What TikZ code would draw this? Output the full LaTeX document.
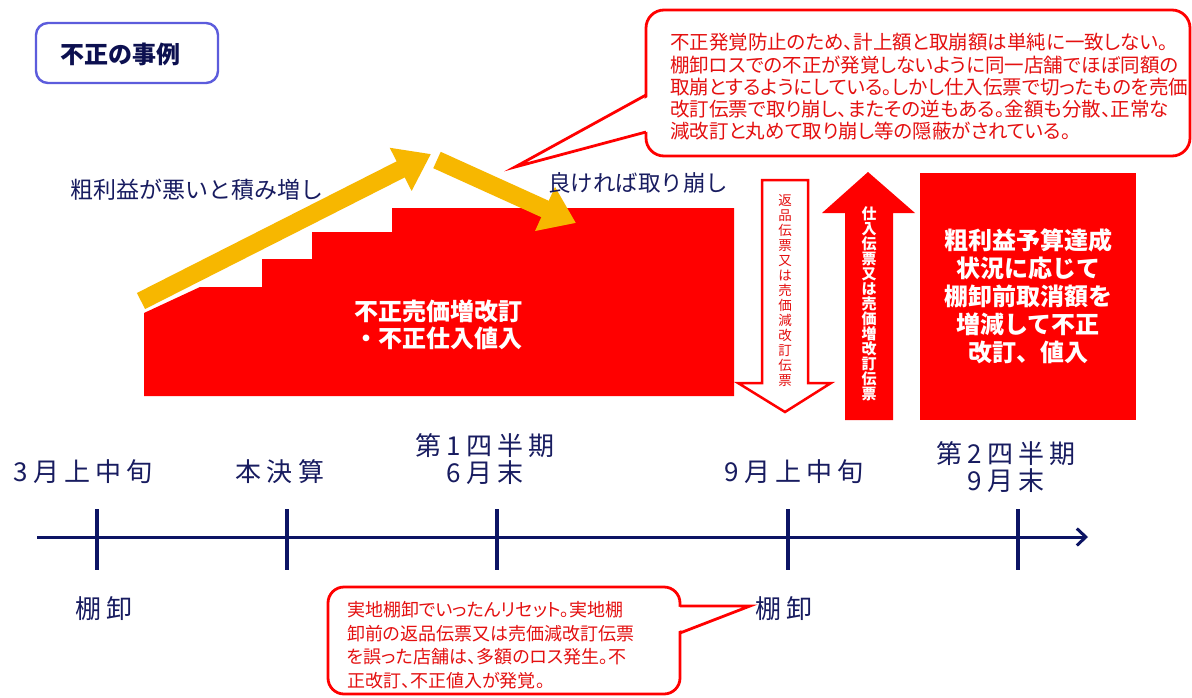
\documentclass[tikz,border=0pt]{standalone}
\usepackage{fontspec}
\setmainfont{Noto Sans CJK JP}
\newfontfamily\jpp[RawFeature=+palt]{Noto Sans CJK JP}
\usetikzlibrary{arrows.meta}
\definecolor{navy}{RGB}{24,28,96}
\definecolor{titlenavy}{RGB}{12,16,80}
\definecolor{tlnavy}{RGB}{12,20,100}
\definecolor{gold}{RGB}{247,183,0}
\definecolor{myred}{RGB}{255,0,0}
\definecolor{txtred}{RGB}{228,16,16}
\definecolor{boxblue}{RGB}{92,92,220}
\tikzset{
  yarrow/.style={gold, line width=18pt, -{Triangle[length=34pt,width=46pt]}},
  callout/.style={draw=myred, line width=2.8pt, fill=white, rounded corners=18pt},
  pointer/.style={myred, line width=2.8pt, line join=miter},
  calltext/.style={text=txtred, align=left, inner sep=0pt, anchor=west},
  lbl/.style={text=navy, align=center, inner sep=0pt, font=\fontsize{26}{27}\selectfont\addfontfeatures{LetterSpace=20}},
  tick/.style={tlnavy, line width=4pt},
  whitebold/.style={text=white, align=center, inner sep=0pt},
}
\begin{document}
\begin{tikzpicture}[x=1pt,y=-1pt]
\useasboundingbox (0,0) rectangle (1192,697);
\fill[white] (0,0) rectangle (1192,697);

% title
\draw[boxblue, line width=2.4pt, rounded corners=12pt] (36,23) rectangle (218,83);
\node[text=titlenavy, inner sep=0pt, font=\fontsize{24}{24}\selectfont\bfseries] (title) at (120,54) {不正の事例};

% red staircase
\fill[myred] (144,313) -- (200,287) -- (262,287) -- (262,259) -- (312,259) -- (312,232)
  -- (392,232) -- (392,208) -- (734,208) -- (734,396) -- (144,396) -- cycle;
\node[whitebold, font=\fontsize{24}{27}\selectfont\bfseries] (basetxt) at (438,325) {不正売価増改訂\\・不正仕入値入};

% yellow arrows
\coordinate (y1s) at (141,301);
\coordinate (y1e) at (431,154);
\coordinate (y2s) at (437,160);
\coordinate (y2e) at (576,223);
\draw[yarrow] (y1s) -- (y1e);
\draw[yarrow] (y2s) -- (y2e);

\node[text=navy, inner sep=0pt, font=\fontsize{23}{23}\selectfont] (upl) at (197,190) {粗利益が悪いと積み増し};
\node[text=navy, inner sep=0pt, font=\fontsize{22.5}{22.5}\selectfont] (downl) at (638,183) {良ければ取り崩し};

% hollow down arrow
\draw[myred, line width=2.5pt, fill=white, line join=miter] (762,180) -- (808,180) -- (808,383) -- (831,383)
  -- (785,412) -- (738,383) -- (762,383) -- cycle;
\node[text=txtred, align=center, inner sep=0pt, font=\fontsize{13.5}{15}\selectfont] (dtxt) at (785,291)
  {返\\品\\伝\\票\\又\\は\\売\\価\\減\\改\\訂\\伝\\票};

% filled up arrow
\fill[myred] (845,420) -- (845,213) -- (822,213) -- (868,172) -- (915,213) -- (893,213) -- (893,420) -- cycle;
\node[whitebold, font=\fontsize{15}{15}\selectfont\bfseries] (utxt) at (869,304)
  {仕\\入\\伝\\票\\又\\は\\売\\価\\増\\改\\訂\\伝\\票};

% right red box
\node[fill=myred, minimum width=216pt, minimum height=247pt, inner sep=0pt, text=white, align=center,
  font=\fontsize{24}{28}\selectfont\bfseries] (rbox) at (1028,296.5)
  {粗利益予算達成\\状況に応じて\\棚卸前取消額を\\増減して不正\\改訂、値入};

% callout 1
\draw[callout] (646,10) rectangle (1190,156);
\coordinate (c1a) at (646,95);
\coordinate (c1b) at (646,132);
\coordinate (c1t) at (515,167);
\fill[white] (650,96) -- (c1t) -- (650,131) -- cycle;
\draw[pointer] (c1a) -- (c1t) -- (c1b);
\node[calltext, font=\jpp\fontsize{19.5}{22.3}\selectfont] (c1txt) at (670,87)
  {不正発覚防止のため、計上額と取崩額は単純に一致しない。\\
   棚卸ロスでの不正が発覚しないように同一店舗でほぼ同額の\\
   取崩とするようにしている。しかし仕入伝票で切ったものを売価\\
   改訂伝票で取り崩し、またその逆もある。金額も分散、正常な\\
   減改訂と丸めて取り崩し等の隠蔽がされている。};

% timeline
\coordinate (tlS) at (37,537);
\coordinate (tlE) at (1088,537);
\draw[tlnavy, line width=3pt, -{Straight Barb[length=9pt,width=17pt,line width=3pt]}] (tlS) -- (tlE);
\foreach \x in {97,287,497,788,1018} \draw[tick] (\x,509) -- (\x,570);

\node[lbl] (l1) at (83,472) {3月上中旬};
\node[lbl] (l2) at (280,472) {本決算};
\node[lbl] (l3) at (485,459) {第1四半期\\6月末};
\node[lbl] (l4) at (794,472) {9月上中旬};
\node[lbl] (l5) at (1006,467) {第2四半期\\9月末};
\node[lbl] (b1) at (104,609) {棚卸};
\node[lbl] (b2) at (784,609) {棚卸};

% callout 2
\draw[callout, rounded corners=16pt] (328,587) rectangle (680,694);
\coordinate (c2a) at (680,606);
\coordinate (c2b) at (680,633);
\coordinate (c2t) at (750,606);
\fill[white] (676,607) -- (c2t) -- (676,632) -- cycle;
\draw[pointer] (c2a) -- (c2t) -- (c2b);
\node[calltext, font=\jpp\fontsize{18}{23.5}\selectfont] (c2txt) at (347,645)
  {実地棚卸でいったんリセット。実地棚\\
   卸前の返品伝票又は売価減改訂伝票\\
   を誤った店舗は、多額のロス発生。不\\
   正改訂、不正値入が発覚。};
\end{tikzpicture}
\end{document}
